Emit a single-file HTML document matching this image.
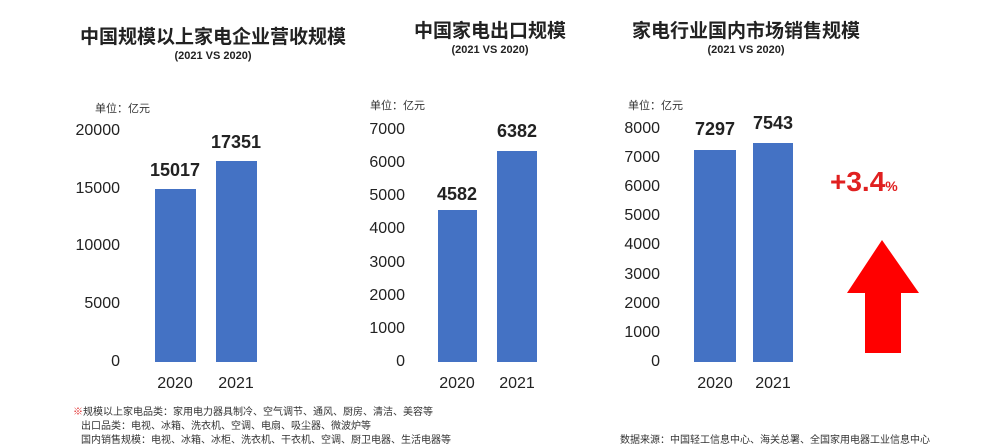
<!DOCTYPE html><html><head><meta charset="utf-8"><style>
body{margin:0;width:1000px;height:445px;background:#fff;position:relative;overflow:hidden;font-family:"Liberation Sans","Noto Sans CJK SC",sans-serif;color:#222}
.a{position:absolute;white-space:nowrap}
.t{font-weight:bold;font-size:19px;transform:translateX(-50%)}
.s{font-weight:bold;font-size:11px;transform:translateX(-50%)}
.u{font-size:11px;color:#333}
.y{font-size:16px;text-align:right;width:60px}
.b{position:absolute;background:#4472c4}
.v{font-weight:bold;font-size:18px;transform:translateX(-50%)}
.x{font-size:16px;transform:translateX(-50%)}
.n{font-size:10px;color:#333}
</style></head><body>
<div class="a t" style="left:213px;top:22px">中国规模以上家电企业营收规模</div>
<div class="a s" style="left:213px;top:50px">(2021 VS 2020)</div>
<div class="a t" style="left:490px;top:16px">中国家电出口规模</div>
<div class="a s" style="left:490px;top:44px">(2021 VS 2020)</div>
<div class="a t" style="left:746px;top:16px">家电行业国内市场销售规模</div>
<div class="a s" style="left:746px;top:44px">(2021 VS 2020)</div>

<div class="a u" style="left:95px;top:100px">单位：亿元</div>
<div class="a y" style="left:60px;top:122px">20000</div>
<div class="a y" style="left:60px;top:180px">15000</div>
<div class="a y" style="left:60px;top:237px">10000</div>
<div class="a y" style="left:60px;top:295px">5000</div>
<div class="a y" style="left:60px;top:353px">0</div>
<div class="b" style="left:155px;top:189px;width:41px;height:173px"></div>
<div class="b" style="left:216px;top:161px;width:41px;height:201px"></div>
<div class="a v" style="left:175px;top:160px">15017</div>
<div class="a v" style="left:236px;top:132px">17351</div>
<div class="a x" style="left:175px;top:375px">2020</div>
<div class="a x" style="left:236px;top:375px">2021</div>

<div class="a u" style="left:370px;top:97px">单位：亿元</div>
<div class="a y" style="left:345px;top:121px">7000</div>
<div class="a y" style="left:345px;top:154px">6000</div>
<div class="a y" style="left:345px;top:187px">5000</div>
<div class="a y" style="left:345px;top:220px">4000</div>
<div class="a y" style="left:345px;top:254px">3000</div>
<div class="a y" style="left:345px;top:287px">2000</div>
<div class="a y" style="left:345px;top:320px">1000</div>
<div class="a y" style="left:345px;top:353px">0</div>
<div class="b" style="left:438px;top:210px;width:39px;height:152px"></div>
<div class="b" style="left:497px;top:151px;width:40px;height:211px"></div>
<div class="a v" style="left:457px;top:184px">4582</div>
<div class="a v" style="left:517px;top:121px">6382</div>
<div class="a x" style="left:457px;top:375px">2020</div>
<div class="a x" style="left:517px;top:375px">2021</div>

<div class="a u" style="left:628px;top:97px">单位：亿元</div>
<div class="a y" style="left:600px;top:120px">8000</div>
<div class="a y" style="left:600px;top:149px">7000</div>
<div class="a y" style="left:600px;top:178px">6000</div>
<div class="a y" style="left:600px;top:207px">5000</div>
<div class="a y" style="left:600px;top:236px">4000</div>
<div class="a y" style="left:600px;top:266px">3000</div>
<div class="a y" style="left:600px;top:295px">2000</div>
<div class="a y" style="left:600px;top:324px">1000</div>
<div class="a y" style="left:600px;top:353px">0</div>
<div class="b" style="left:694px;top:150px;width:42px;height:212px"></div>
<div class="b" style="left:753px;top:143px;width:40px;height:219px"></div>
<div class="a v" style="left:715px;top:119px">7297</div>
<div class="a v" style="left:773px;top:113px">7543</div>
<div class="a x" style="left:715px;top:375px">2020</div>
<div class="a x" style="left:773px;top:375px">2021</div>
<div class="a" style="left:830px;top:166px;color:#e02020;font-weight:bold;font-size:28px">+3.4<span style="font-size:14px">%</span></div>
<svg class="a" style="left:845px;top:238px" width="76" height="118"><polygon points="37,2 74,55 56,55 56,115 20,115 20,55 2,55" fill="#f00"/></svg>

<div class="a n" style="left:73px;top:403px"><span style="color:#e02020">※</span>规模以上家电品类：家用电力器具制冷、空气调节、通风、厨房、清洁、美容等</div>
<div class="a n" style="left:81px;top:417px">出口品类：电视、冰箱、洗衣机、空调、电扇、吸尘器、微波炉等</div>
<div class="a n" style="left:81px;top:431px">国内销售规模：电视、冰箱、冰柜、洗衣机、干衣机、空调、厨卫电器、生活电器等</div>
<div class="a n" style="left:620px;top:431px">数据来源：中国轻工信息中心、海关总署、全国家用电器工业信息中心</div>
</body></html>
